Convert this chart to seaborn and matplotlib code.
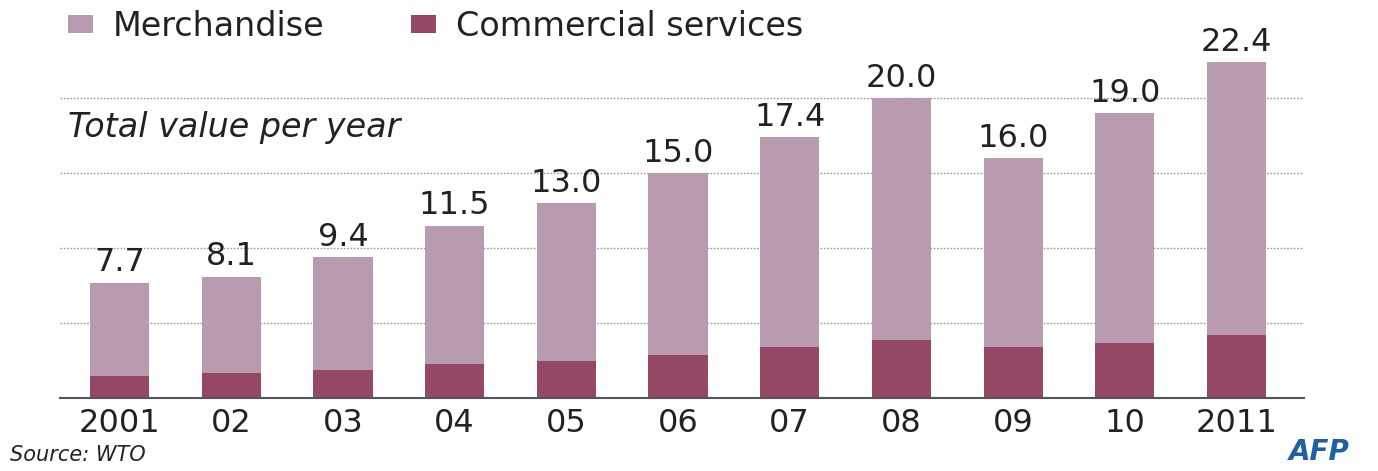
import matplotlib
matplotlib.use("Agg")
import matplotlib.pyplot as plt
import seaborn as sns
from matplotlib.patches import Patch

# ---- data ----
years = ["2001", "02", "03", "04", "05", "06", "07", "08", "09", "10", "2011"]
totals = [7.7, 8.1, 9.4, 11.5, 13.0, 15.0, 17.4, 20.0, 16.0, 19.0, 22.4]
services = [1.5, 1.7, 1.9, 2.3, 2.5, 2.9, 3.4, 3.9, 3.4, 3.7, 4.2]
legend_labels = ["Merchandise", "Commercial services"]
grid_values = [5, 10, 15, 20]

merch_color = "#b99bb0"
serv_color = "#944865"
text_color = "#222222"

sns.set_theme(style="white")
plt.rcParams["font.family"] = ["DejaVu Sans"]

W, H = 1378, 471
fig = plt.figure(figsize=(W / 100, H / 100), dpi=100)
fig.patch.set_facecolor("white")
ax = fig.add_axes([60 / W, 1 - 398 / H, (1304 - 60) / W, (398 - 30) / H])

sns.barplot(x=years, y=totals, order=years, color=merch_color, width=0.53,
            saturation=1, ax=ax, zorder=3, linewidth=0, edgecolor="none")
sns.barplot(x=years, y=services, order=years, color=serv_color, width=0.53,
            saturation=1, ax=ax, zorder=3, linewidth=0, edgecolor="none")

ax.set_ylim(0, 368 / 15)
ax.set_xlim(-0.533, 10.604)
ax.set_yticks(grid_values)
ax.set_yticklabels([])
ax.yaxis.grid(True, linestyle=(0, (1.2, 1.2)), color="#9a9a9a", linewidth=1)
ax.xaxis.grid(False)
ax.set_axisbelow(True)
for s in ["top", "right", "left"]:
    ax.spines[s].set_visible(False)
ax.spines["bottom"].set_color("#555555")
ax.spines["bottom"].set_linewidth(1.5)
ax.spines["bottom"].set_zorder(4)
ax.tick_params(axis="x", length=0, pad=7, labelsize=23, colors=text_color)
ax.tick_params(axis="y", length=0)
ax.set_xlabel("")
ax.set_ylabel("")

ax.bar_label(ax.containers[0], labels=[f"{v:.1f}" for v in totals],
             padding=3, fontsize=23, color=text_color)

ax.text(68 / W, 1 - 128 / H, "Total value per year", transform=fig.transFigure,
        fontsize=24, style="italic", color=text_color, va="center", ha="left")

handles = [Patch(facecolor=merch_color, edgecolor="none"),
           Patch(facecolor=serv_color, edgecolor="none")]
fig.legend(handles, legend_labels, loc="center left",
           bbox_to_anchor=(68 / W, 1 - 26 / H), ncol=2, frameon=False,
           fontsize=24, handlelength=0.75, handleheight=0.45, handletextpad=0.6,
           columnspacing=2.6, labelcolor=text_color, borderpad=0,
           borderaxespad=0)

fig.text(10 / W, 1 - 455 / H, "Source: WTO", fontsize=15, style="italic",
         color=text_color, va="center", ha="left")
fig.text(1350 / W, 1 - 452 / H, "AFP", fontsize=20, weight="bold",
         style="italic", color="#1f5fa8", va="center", ha="right")

fig.savefig("out.png", dpi=100, facecolor="white")
